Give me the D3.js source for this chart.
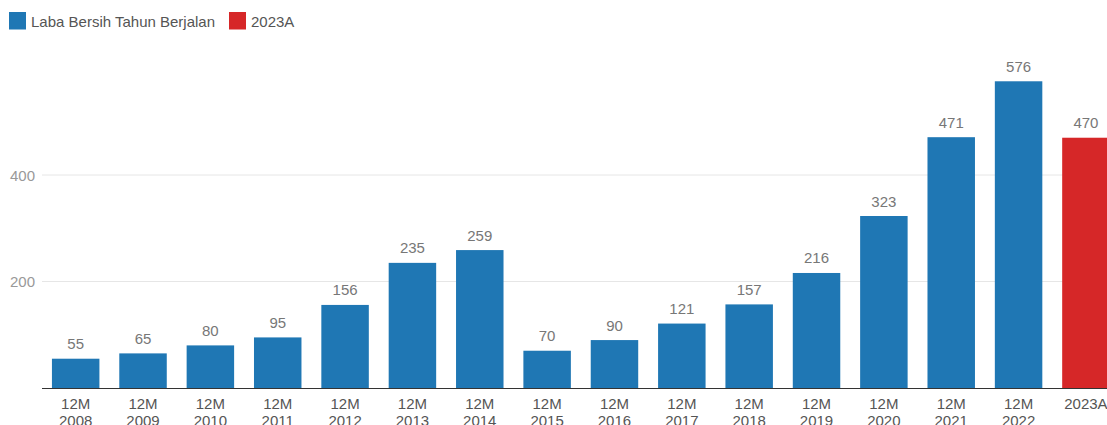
<!DOCTYPE html>
<html>
<head>
<meta charset="utf-8">
<script src="https://cdn.jsdelivr.net/npm/d3@7"></script>
<style>
  body { margin: 0; background: #fff; overflow: hidden; }
  svg { font-family: "Liberation Sans", Arial, sans-serif; display: block; }
</style>
</head>
<body>
<svg id="chart"></svg>
<script>
const categories = ["12M 2008", "12M 2009", "12M 2010", "12M 2011", "12M 2012", "12M 2013", "12M 2014",
  "12M 2015", "12M 2016", "12M 2017", "12M 2018", "12M 2019", "12M 2020", "12M 2021", "12M 2022", "2023A"];
const values = [55, 65, 80, 95, 156, 235, 259, 70, 90, 121, 157, 216, 323, 471, 576, 470];
const seriesNames = ["Laba Bersih Tahun Berjalan", "2023A"];
const yTicks = [200, 400];

const width = 1107, height = 425;
const margin = { top: 10, right: 0, bottom: 37, left: 42 };

const svg = d3.select("#chart").attr("width", width).attr("height", height);

const colorScale = d3.scaleOrdinal()
  .domain(seriesNames)
  .range(["#1f77b4", "#d62728"]);

const xScale = d3.scaleBand()
  .domain(categories)
  .range([margin.left, 1119.6])
  .paddingInner(0.295)
  .paddingOuter(0.1475);

const yScale = d3.scaleLinear()
  .domain([0, 200])
  .range([388, 281.5]);

// gridlines
svg.append("g")
  .selectAll("line")
  .data(yTicks)
  .join("line")
  .attr("x1", margin.left)
  .attr("x2", width)
  .attr("y1", d => yScale(d))
  .attr("y2", d => yScale(d))
  .attr("stroke", "#e6e6e6")
  .attr("stroke-width", 1);

// y labels
svg.append("g")
  .selectAll("text")
  .data(yTicks)
  .join("text")
  .attr("x", 35)
  .attr("y", d => yScale(d) + 5.5)
  .attr("text-anchor", "end")
  .attr("fill", "#999")
  .style("font-size", "15px")
  .text(d => d);

// bars
svg.append("g")
  .selectAll("rect")
  .data(categories)
  .join("rect")
  .attr("x", d => xScale(d))
  .attr("y", (d, i) => yScale(values[i]))
  .attr("width", xScale.bandwidth())
  .attr("height", (d, i) => yScale(0) - yScale(values[i]))
  .attr("fill", d => d === "2023A" ? colorScale("2023A") : colorScale(seriesNames[0]));

// value labels
svg.append("g")
  .selectAll("text")
  .data(categories)
  .join("text")
  .attr("x", d => xScale(d) + xScale.bandwidth() / 2)
  .attr("y", (d, i) => yScale(values[i]) - 9.5)
  .attr("text-anchor", "middle")
  .attr("fill", "#777")
  .style("font-size", "15px")
  .text((d, i) => values[i]);

// x axis line
svg.append("line")
  .attr("x1", margin.left)
  .attr("x2", width)
  .attr("y1", yScale(0) + 0.5)
  .attr("y2", yScale(0) + 0.5)
  .attr("stroke", "#333")
  .attr("stroke-width", 1);

// category labels
const catLabels = svg.append("g")
  .selectAll("text")
  .data(categories)
  .join("text")
  .attr("text-anchor", "middle")
  .attr("fill", "#555")
  .style("font-size", "15px");

catLabels.each(function(d) {
  const parts = d.split(" ");
  const cx = xScale(d) + xScale.bandwidth() / 2;
  d3.select(this).selectAll("tspan")
    .data(parts)
    .join("tspan")
    .attr("x", cx)
    .attr("y", (p, j) => 408.5 + j * 17)
    .text(p => p);
});

// legend
const legend = svg.append("g")
  .selectAll(".legend")
  .data(seriesNames)
  .join("g")
  .attr("class", "legend")
  .attr("transform", (d, i) => `translate(${i === 0 ? 9 : 229}, 12)`);

legend.append("rect")
  .attr("width", 17)
  .attr("height", 17.5)
  .attr("fill", d => colorScale(d));

legend.append("text")
  .attr("x", 22)
  .attr("y", 14.5)
  .attr("fill", "#555")
  .style("font-size", "15px")
  .text(d => d);
</script>
</body>
</html>
